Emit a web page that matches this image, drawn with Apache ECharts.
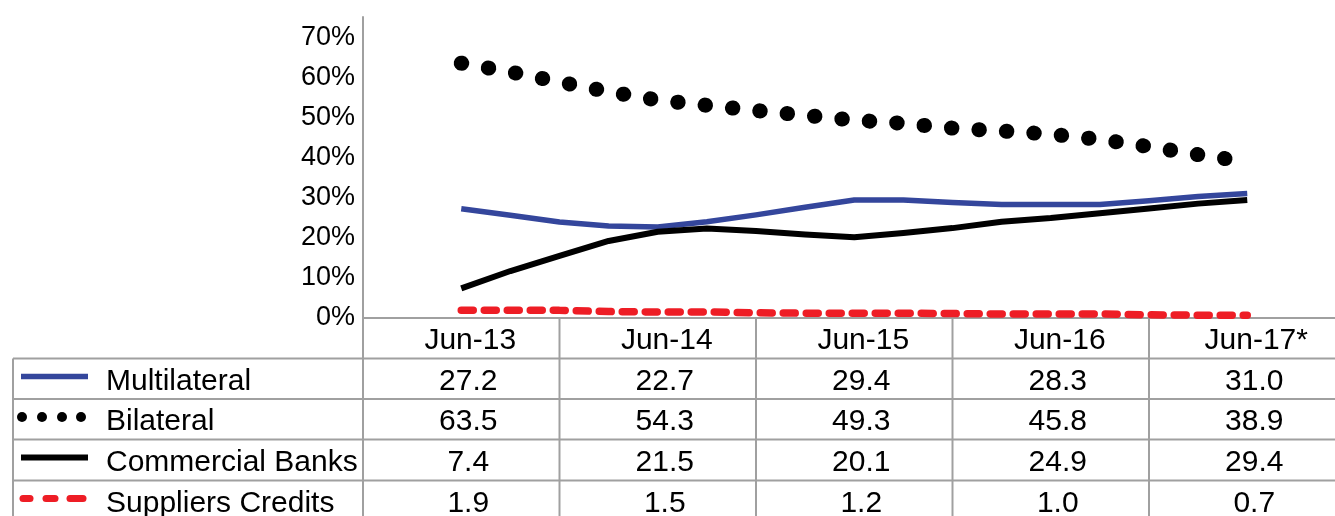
<!DOCTYPE html>
<html>
<head>
<meta charset="utf-8">
<script src="https://cdn.jsdelivr.net/npm/echarts@6/dist/echarts.min.js"></script>
<style>
  html, body { margin: 0; padding: 0; background: #ffffff; }
  #chart { width: 1335px; height: 516px; }
</style>
</head>
<body>
<div id="chart"></div>
<script>
// Quarterly creditor shares of external debt (per cent), Jun-13 to Jun-17
const quarters = ['Jun-13', 'Sep-13', 'Dec-13', 'Mar-14', 'Jun-14', 'Sep-14', 'Dec-14', 'Mar-15',
                  'Jun-15', 'Sep-15', 'Dec-15', 'Mar-16', 'Jun-16', 'Sep-16', 'Dec-16', 'Mar-17', 'Jun-17*'];
const multilateral     = [27.2, 25.6, 23.9, 22.9, 22.7, 24.0, 25.7, 27.6, 29.4, 29.4, 28.8, 28.3, 28.3, 28.3, 29.2, 30.3, 31.0];
const bilateral        = [63.5, 61.3, 58.8, 56.4, 54.3, 53.0, 51.7, 50.5, 49.3, 48.5, 47.3, 46.6, 45.8, 44.5, 42.7, 40.7, 38.9];
const commercialBanks  = [7.4, 11.7, 15.5, 19.2, 21.5, 22.3, 21.7, 20.8, 20.1, 21.2, 22.4, 24.0, 24.9, 26.1, 27.3, 28.5, 29.4];
const suppliersCredits = [1.9, 1.9, 1.9, 1.6, 1.5, 1.5, 1.3, 1.2, 1.2, 1.2, 1.1, 1.0, 1.0, 1.0, 0.8, 0.7, 0.7];

// Columns of the data table under the plot (one per June)
const tableColumns = ['Jun-13', 'Jun-14', 'Jun-15', 'Jun-16', 'Jun-17*'];
const tableIndex   = [0, 4, 8, 12, 16];

const BLUE = '#34469c';
const RED = '#ee1d25';
const GRID_GRAY = '#a0a0a0';
const FONT = 'Liberation Sans, Arial, sans-serif';

const seriesDefs = [
  { name: 'Multilateral',      data: multilateral,     color: BLUE,   width: 5.5, type: 'solid',    cap: 'butt' },
  { name: 'Bilateral',         data: bilateral,        color: '#000', width: 15,  type: [0.5, 27], cap: 'round' },
  { name: 'Commercial Banks',  data: commercialBanks,  color: '#000', width: 6,   type: 'solid',    cap: 'butt' },
  { name: 'Suppliers Credits', data: suppliersCredits, color: RED,    width: 7.5, type: [12, 11],  cap: 'round' }
];

const chart = echarts.init(document.getElementById('chart'), null, { renderer: 'canvas' });

chart.setOption({
  animation: false,
  backgroundColor: '#ffffff',
  grid: { left: 363, top: 17, width: 982.5, height: 301, containLabel: false, outerBoundsMode: 'none' },
  xAxis: {
    type: 'value', min: -2, max: 18,
    axisLine: { show: true, onZero: false, lineStyle: { color: GRID_GRAY, width: 2 } },
    axisTick: { show: false }, axisLabel: { show: false }, splitLine: { show: false }
  },
  yAxis: {
    type: 'value', min: 0, max: 75, interval: 5,
    axisLine: { show: true, onZero: false, lineStyle: { color: GRID_GRAY, width: 2 } },
    axisTick: { show: false }, splitLine: { show: false },
    axisLabel: {
      color: '#000', fontFamily: FONT, fontSize: 27, margin: 8,
      formatter: v => (v % 10 === 0 ? v + '%' : '')
    }
  },
  series: seriesDefs.map(s => ({
    name: s.name, type: 'line', symbol: 'none', smooth: false,
    data: s.data.map((v, i) => [i, v]),
    lineStyle: { color: s.color, width: s.width, type: s.type, cap: s.cap, join: 'round' }
  }))
});

// Data table drawn below the plot, aligned with the x scale
const px = v => chart.convertToPixel({ xAxisIndex: 0 }, v);
const edges = [-2, 2, 6, 10, 14, 18].map(px);
const centers = tableIndex.map(px);
const tableTop = 318;
const rowTops = [318, 358.5, 399, 439.5, 480.5];
const textOffset = 23;
const headerShift = 9;   // cell text sits a little right of the column centre
const valueShift = 7;
const leftEdge = 13;
const rightEdge = 1335;
const bottom = 516;

const g = [];
const hline = (x1, x2, y) => g.push({ type: 'line', shape: { x1, y1: y, x2, y2: y }, style: { stroke: GRID_GRAY, lineWidth: 2 }, silent: true });
const vline = (x, y1, y2) => g.push({ type: 'line', shape: { x1: x, y1, x2: x, y2 }, style: { stroke: GRID_GRAY, lineWidth: 2 }, silent: true });
const text = (str, x, y, align) => g.push({
  type: 'text', x, y, silent: true,
  style: { text: str, fill: '#000', font: '30px ' + FONT, align, verticalAlign: 'middle' }
});

for (let r = 1; r < rowTops.length; r++) hline(leftEdge, rightEdge, rowTops[r]);
vline(leftEdge, rowTops[1], bottom);
vline(edges[0], tableTop, bottom);
for (let c = 1; c < edges.length; c++) vline(edges[c], tableTop, bottom);

tableColumns.forEach((lab, c) => text(lab, centers[c] + headerShift, rowTops[0] + textOffset, 'center'));
seriesDefs.forEach((s, r) => {
  const y = rowTops[r + 1] + textOffset;
  text(s.name, 106, y, 'left');
  tableIndex.forEach((qi, c) => text(s.data[qi].toFixed(1), centers[c] + valueShift, y, 'center'));
});

// Legend keys in the first column
const keyY = r => rowTops[r + 1] + 18;
g.push({ type: 'line', shape: { x1: 21, y1: keyY(0), x2: 88, y2: keyY(0) }, style: { stroke: BLUE, lineWidth: 5.5 }, silent: true });
[22, 42, 62, 81].forEach(cx => g.push({ type: 'circle', shape: { cx, cy: keyY(1), r: 5 }, style: { fill: '#000' }, silent: true }));
g.push({ type: 'line', shape: { x1: 21, y1: keyY(2), x2: 88, y2: keyY(2) }, style: { stroke: '#000', lineWidth: 6 }, silent: true });
[[23, 30], [46, 55], [70, 83]].forEach(([a, b]) => g.push({
  type: 'line', shape: { x1: a, y1: keyY(3), x2: b, y2: keyY(3) },
  style: { stroke: RED, lineWidth: 7, lineCap: 'round' }, silent: true
}));

chart.setOption({ graphic: g });
</script>
</body>
</html>
